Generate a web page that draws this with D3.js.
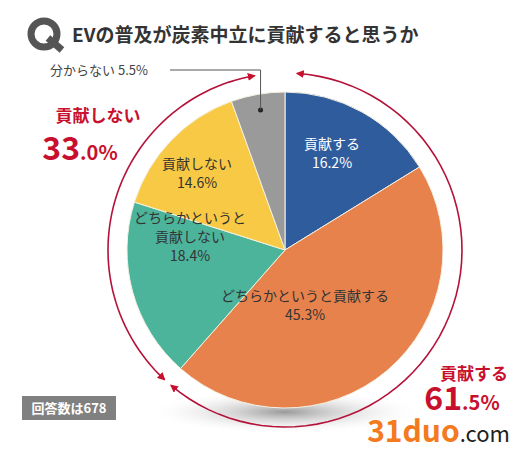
<!DOCTYPE html>
<html><head><meta charset="utf-8">
<script src="https://cdn.jsdelivr.net/npm/d3@7"></script>
<style>body{margin:0;background:#fff}text{font-family:"Noto Sans CJK JP",sans-serif}</style>
</head><body><svg id="chart" width="530" height="450"></svg>
<script>
var categories = ['貢献する', 'どちらかというと貢献する', 'どちらかというと貢献しない', '貢献しない', '分からない'];
var values = [16.2, 45.3, 18.4, 14.6, 5.5];
var colors = ['#2f5c9c', '#e8824c', '#4cb49a', '#f7c945', '#9a9a9a'];
var labelLines = [['貢献する', '16.2%'], ['どちらかというと貢献する', '45.3%'], ['どちらかというと', '貢献しない', '18.4%'], ['貢献しない', '14.6%'], []];
var groups = [
	{name : '貢献する', big : '61', small : '.5%'},
	{name : '貢献しない', big : '33', small : '.0%'}
];

var svg = d3.select('#chart'),
	cx = 285, cy = 250, r = 158;

var defs = svg.append('defs');
var grad = defs.append('radialGradient').attr('id', 'shadow');
grad.append('stop').attr('offset', '0%').attr('stop-color', '#999');
grad.append('stop').attr('offset', '100%').attr('stop-color', '#fff').attr('stop-opacity', 0);
defs.append('marker').attr('id', 'ah').attr('viewBox', '0 0 10 10')
	.attr('refX', 8).attr('refY', 5).attr('markerWidth', 5).attr('markerHeight', 5)
	.attr('orient', 'auto-start-reverse')
	.append('path').attr('d', 'M0,0L10,5L0,10z').attr('fill', '#c8102e');

// title
svg.append('circle').attr('cx', 44).attr('cy', 34).attr('r', 13).attr('fill', 'none').attr('stroke', '#555').attr('stroke-width', 7);
svg.append('path').attr('d', 'M48,38L62,50').attr('stroke', '#555').attr('stroke-width', 7);
svg.append('text').attr('x', 72).attr('y', 42).attr('font-size', 19).attr('font-weight', 'bold').attr('fill', '#333')
	.text('EVの普及が炭素中立に貢献すると思うか');

// shadow
svg.append('ellipse').attr('cx', cx).attr('cy', 412).attr('rx', 140).attr('ry', 22).attr('fill', 'url(#shadow)');

var pie = d3.pie().sort(null).value(d => d);
var arcs = pie(values);
var arc = d3.arc().innerRadius(0).outerRadius(r);
var g = svg.append('g').attr('transform', `translate(${cx},${cy})`);
g.selectAll('path').data(arcs).enter().append('path')
	.attr('d', arc).attr('fill', (d, i) => colors[i]).attr('stroke', '#f4f0e0').attr('stroke-width', 1);

var labelPos = [[47, -92], [20, 60], [-95, -8], [-88, -72]];
arcs.forEach(function(d, i){
	var lines = labelLines[i];
	if(!lines.length) return;
	var t = g.append('text').attr('text-anchor', 'middle').attr('font-size', 14)
		.attr('fill', i === 0 ? '#fff' : '#333');
	lines.forEach(function(l, j){
		t.append('tspan').attr('x', labelPos[i][0]).attr('y', labelPos[i][1] + j * 19 - (lines.length - 1) * 9.5).text(l);
	});
});

// unknown leader
var mid = (arcs[4].startAngle + arcs[4].endAngle) / 2;
var dx = Math.sin(mid) * r * 0.9, dy = -Math.cos(mid) * r * 0.9;
g.append('circle').attr('cx', dx).attr('cy', dy).attr('r', 2.5).attr('fill', '#222');
g.append('path').attr('d', `M${dx},${dy}V${-180}H${-115}`).attr('fill', 'none').attr('stroke', '#555');
svg.append('text').attr('x', 50).attr('y', 75).attr('font-size', 13).attr('fill', '#444').text(categories[4] + ' ' + values[4] + '%');

// arrows
function ringPath(a0, a1){
	var p = d3.path(), n = 60;
	for(var k = 0; k <= n; k++){
		var a = a0 + (a1 - a0) * k / n;
		var x = Math.sin(a) * 177, y = -Math.cos(a) * 177;
		k ? p.lineTo(x, y) : p.moveTo(x, y);
	}
	return p.toString();
}
var deg = Math.PI / 180;
[[4 * deg, 220 * deg], [223 * deg, 350 * deg]].forEach(function(a){
	g.append('path').attr('d', ringPath(a[0], a[1])).attr('fill', 'none')
		.attr('stroke', '#b5123a').attr('stroke-width', 1.6)
		.attr('marker-start', 'url(#ah)').attr('marker-end', 'url(#ah)');
});

// group labels
var gl = [[474, 380, 462, 410], [98, 122, 80, 160]];
groups.forEach(function(d, i){
	svg.append('text').attr('x', gl[i][0]).attr('y', gl[i][1]).attr('text-anchor', 'middle')
		.attr('font-size', 17).attr('font-weight', 'bold').attr('fill', '#c8102e').text(d.name);
	var t = svg.append('text').attr('x', gl[i][2]).attr('y', gl[i][3]).attr('text-anchor', 'middle')
		.attr('font-family', 'Liberation Sans, sans-serif').attr('font-weight', 'bold').attr('fill', '#c8102e');
	t.append('tspan').attr('font-size', 32).text(d.big);
	t.append('tspan').attr('font-size', 20).text(d.small);
});

// n
svg.append('rect').attr('x', 22).attr('y', 396).attr('width', 94).attr('height', 24).attr('fill', '#808080');
svg.append('text').attr('x', 69).attr('y', 413).attr('text-anchor', 'middle').attr('font-size', 13)
	.attr('font-weight', 'bold').attr('fill', '#fff').text('回答数は678');

// watermark
var w = svg.append('text').attr('x', 510).attr('y', 442).attr('text-anchor', 'end').attr('font-family', 'Liberation Sans, sans-serif');
w.append('tspan').attr('font-size', 30).attr('font-weight', 'bold').attr('fill', '#f47a20').text('31duo');
w.append('tspan').attr('font-size', 22).attr('fill', '#222').text('.com');
</script></body></html>
